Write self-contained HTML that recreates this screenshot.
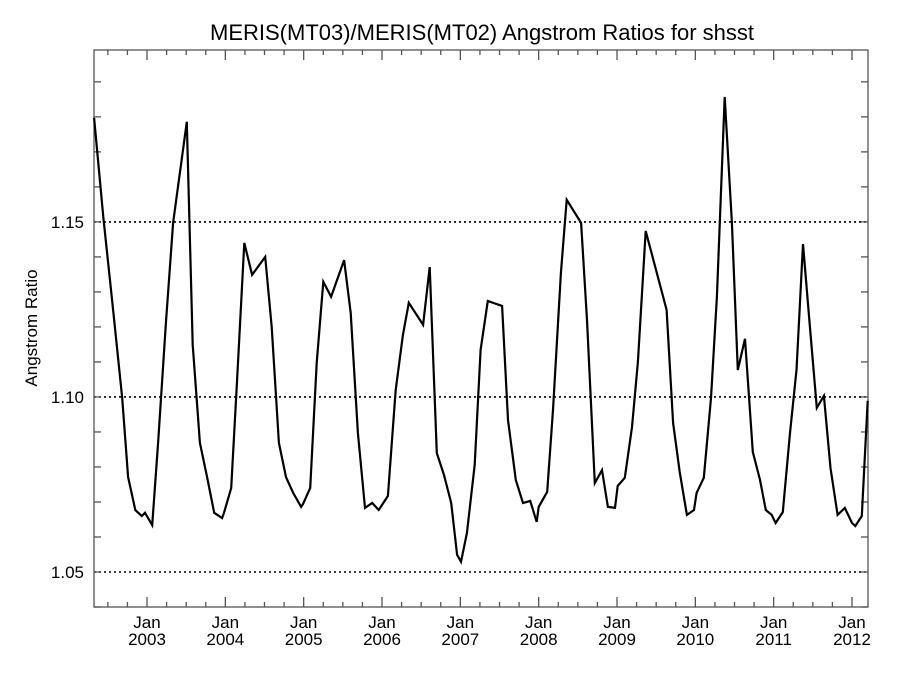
<!DOCTYPE html>
<html><head><meta charset="utf-8"><style>
body{margin:0;background:#fff;}
svg{display:block;font-family:"Liberation Sans",sans-serif;}
</style></head><body>
<svg id="chart" width="900" height="675">
<text x="482" y="40" text-anchor="middle" font-size="22">MERIS(MT03)/MERIS(MT02)  Angstrom Ratios for shsst</text>
<text transform="translate(37,328) rotate(-90)" text-anchor="middle" font-size="17">Angstrom Ratio</text>
<g id="grid"></g><g id="axes"></g><g id="series"></g>
</svg>
<script>
// months since Jan 2003
const months=[-8.1,-6.7,-5.2,-3.8,-2.9,-1.8,-0.8,-0.3,0.8,1.7,2.9,4.0,6.1,7.0,8.1,9.2,10.3,11.5,11.8,12.9,13.8,14.9,16.1,18.1,19.1,20.2,21.3,22.4,23.6,23.9,25.0,26.0,27.0,28.2,30.2,31.2,32.3,33.4,34.5,35.5,36.9,38.1,39.2,40.1,42.3,43.3,44.4,45.5,46.6,47.5,48.1,49.0,50.2,51.1,52.2,54.4,55.3,56.5,57.6,58.7,59.7,60.0,61.3,62.2,63.4,64.3,66.5,67.4,68.6,69.7,70.6,71.7,72.1,73.2,74.3,75.2,76.4,79.6,80.6,81.6,82.7,83.8,84.2,85.3,86.4,87.3,88.5,89.6,90.5,91.6,92.8,93.9,94.8,95.7,96.3,97.4,98.5,99.5,100.5,101.5,102.6,103.7,104.7,105.8,106.9,108.0,108.5,109.5,110.4];
const ratios=[1.1797,1.1514,1.1249,1.0997,1.0771,1.0677,1.0660,1.0669,1.0634,1.0869,1.1211,1.1497,1.1786,1.1149,1.0869,1.0771,1.0669,1.0654,1.0669,1.0740,1.1049,1.1440,1.1349,1.1400,1.1200,1.0869,1.0771,1.0726,1.0686,1.0694,1.0740,1.1097,1.1329,1.1286,1.1391,1.1240,1.0897,1.0683,1.0697,1.0677,1.0717,1.1020,1.1177,1.1269,1.1206,1.1371,1.0840,1.0777,1.0697,1.0549,1.0529,1.0611,1.0806,1.1134,1.1274,1.1260,1.0934,1.0763,1.0697,1.0703,1.0643,1.0686,1.0729,1.0963,1.1354,1.1563,1.1497,1.1220,1.0754,1.0791,1.0686,1.0683,1.0746,1.0769,1.0914,1.1100,1.1474,1.1249,1.0926,1.0786,1.0663,1.0677,1.0726,1.0769,1.0997,1.1286,1.1857,1.1497,1.1077,1.1166,1.0843,1.0763,1.0677,1.0663,1.0640,1.0671,1.0897,1.1077,1.1437,1.1211,1.0969,1.1003,1.0797,1.0663,1.0683,1.0640,1.0631,1.0660,1.0989];
const yearLabels=["2003","2004","2005","2006","2007","2008","2009","2010","2011","2012"];
const yTickLabels=["1.05","1.10","1.15"];
const yTicks=[1.05,1.10,1.15];
const NS="http://www.w3.org/2000/svg";
const L=94,R=868,T=50,B=607;
const xMin=-8.12,xMax=110.45,yMin=1.04,yMax=1.1991;
const xs=m=>L+(m-xMin)/(xMax-xMin)*(R-L);
const ys=v=>B-(v-yMin)/(yMax-yMin)*(B-T);
function mk(tag,attrs,parent,txt){const e=document.createElementNS(NS,tag);for(const k in attrs)e.setAttribute(k,attrs[k]);if(txt!==undefined)e.textContent=txt;parent.appendChild(e);return e;}
const grid=document.getElementById('grid'),axes=document.getElementById('axes'),series=document.getElementById('series');
yTicks.forEach((v,i)=>{
 const g=mk('line',{x1:L,x2:R,y1:ys(v),y2:ys(v),stroke:'#000','stroke-width':1.6,'stroke-dasharray':'2,3'},grid);
 
 
 const t=mk('text',{x:L-10,y:ys(v)+6,'text-anchor':'end','font-size':17},axes,yTickLabels[i]);
 
 
});
const frame=mk('rect',{x:L,y:T,width:R-L,height:B-T,fill:'none',stroke:'#555','stroke-width':1.3},axes);


for(let k=0;k<=16;k++){const v=1.04+k*0.01;if(v>yMax)break;const y=ys(v);
 mk('line',{x1:L,x2:L+7,y1:y,y2:y,stroke:'#555','stroke-width':1.3},axes);
 mk('line',{x1:R,x2:R-7,y1:y,y2:y,stroke:'#555','stroke-width':1.3},axes);}
for(let m=-6;m<=110;m+=3){const x=xs(m);const len=(m%12===0)?10:5;
 mk('line',{x1:x,x2:x,y1:B,y2:B-len,stroke:'#555','stroke-width':1.3},axes);
 mk('line',{x1:x,x2:x,y1:T,y2:T+len,stroke:'#555','stroke-width':1.3},axes);}
yearLabels.forEach((yr,i)=>{const x=xs(i*12);
 const a=mk('text',{x:x,y:628,'text-anchor':'middle','font-size':17},axes,'Jan');
 
 
 const b=mk('text',{x:x,y:645,'text-anchor':'middle','font-size':17},axes,yr);
 
 
});
const pts=months.map((m,i)=>xs(m).toFixed(1)+','+ys(ratios[i]).toFixed(1)).join(' ');
const line=mk('polyline',{points:pts,fill:'none',stroke:'#000','stroke-width':2.2,'stroke-linejoin':'miter'},series);


</script>
</body></html>
